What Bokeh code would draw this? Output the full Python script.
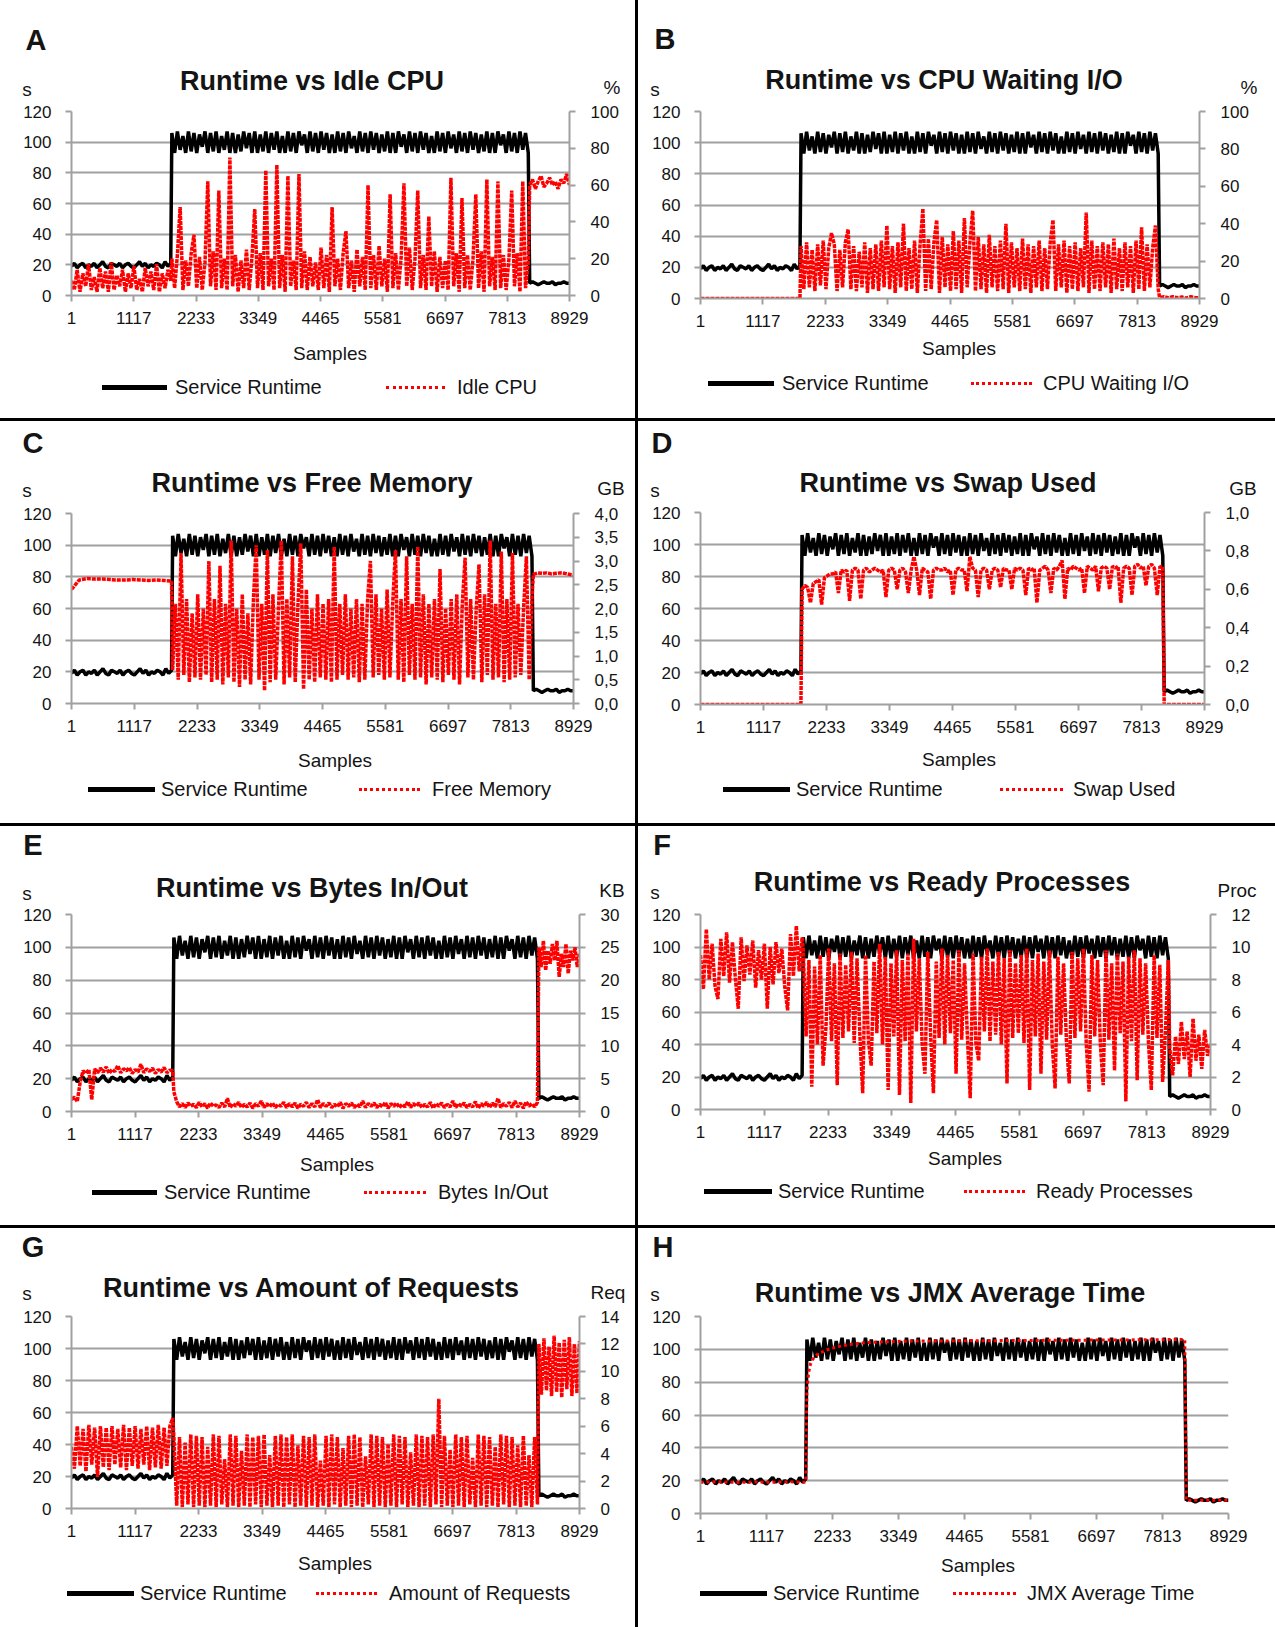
import numpy as np
from bokeh.plotting import figure
from bokeh.models import Range1d, LinearAxis, FixedTicker, CustomJSTickFormatter, Div
from bokeh.layouts import column, row
from bokeh.embed import file_html
from bokeh.resources import INLINE

FONT = "Liberation Sans"

# ---------------- data ----------------
sample_ticks = [1, 1117, 2233, 3349, 4465, 5581, 6697, 7813, 8929]
runtime_ticks = [0, 20, 40, 60, 80, 100, 120]
# sample ranges of the three phases (before load, under load, after load)
phase_bounds = [1, 1780, 1800, 8190, 8215, 8929]

runtime_pre = [19, 21, 18, 20, 21, 18, 20, 19, 21, 18, 20, 22, 19, 18, 21, 20, 19, 21,
               18, 20, 21, 19, 18, 20, 22, 19, 21, 18, 20, 19, 21, 20, 18, 22, 19, 21]
runtime_mid = [106, 93, 107, 95, 104, 93, 107, 94, 106, 93, 105, 97, 107, 93, 106, 94, 107, 93, 104, 95,
               107, 93, 106, 93, 105, 94, 107, 96, 106, 93, 107, 93, 105, 94, 107, 93, 106, 95, 107, 93,
               104, 93, 107, 94, 106, 93, 107, 98, 105, 93, 107, 94, 106, 93, 107, 95, 106, 93, 105, 93,
               107, 94, 106, 93, 107, 96, 104, 93, 107, 94, 106, 93, 107, 95, 106, 93, 105, 94, 107, 93,
               106, 93, 107, 97, 105, 93, 107, 94, 106, 93, 107, 95, 106, 93, 104, 93, 107, 94, 106, 93,
               107, 96, 105, 93, 107, 94, 106, 93, 107, 95, 106, 93, 105, 94, 107, 93, 106, 93, 107, 98,
               105, 93, 107, 94, 106, 93, 107, 95, 106, 93]
runtime_post = [8, 9, 8, 7, 8, 9, 8, 8, 9, 7, 8, 8, 9, 8, 8]

idle_cpu_pre = [8, 3, 14, 2, 12, 5, 17, 3, 10, 2, 15, 4, 13, 2, 18, 3, 11, 5, 14, 2, 12, 4, 16, 3,
                9, 2, 15, 5, 13, 3, 17, 2, 12, 4, 14, 8]
idle_cpu_mid = [20, 4, 22, 48, 3, 19, 5, 23, 33, 4, 21, 3, 18, 62, 5, 24, 3, 57, 4, 20,
                3, 75, 5, 22, 2, 19, 4, 25, 3, 21, 47, 4, 23, 3, 68, 5, 20, 3, 71, 4,
                22, 2, 65, 5, 19, 3, 66, 4, 24, 3, 21, 5, 18, 3, 26, 4, 22, 2, 48, 5,
                20, 3, 23, 35, 4, 19, 2, 25, 5, 21, 3, 60, 4, 22, 3, 27, 5, 20, 2, 55,
                4, 23, 3, 21, 61, 5, 26, 3, 20, 57, 4, 22, 3, 43, 5, 24, 2, 21, 4, 19,
                3, 64, 5, 23, 2, 53, 4, 22, 3, 20, 55, 4, 24, 2, 63, 5, 21, 3, 62, 4,
                22, 3, 20, 57, 5, 23, 2, 62, 4, 18]
idle_cpu_post = [60, 63, 58, 62, 65, 59, 61, 64, 60, 62, 58, 63, 61, 66, 60]

io_wait_pre = [0, 0, 0, 0, 0, 0]
io_wait_mid = [28, 5, 30, 6, 26, 4, 29, 7, 31, 5, 27, 35, 29, 4, 26, 6, 30, 37, 5, 28,
               4, 25, 6, 30, 3, 27, 5, 29, 4, 31, 6, 39, 5, 28, 3, 30, 6, 40, 4, 27,
               5, 31, 3, 29, 48, 4, 32, 5, 30, 42, 3, 33, 6, 29, 4, 36, 5, 31, 3, 43,
               6, 30, 47, 4, 33, 5, 29, 3, 34, 6, 28, 4, 31, 5, 40, 3, 30, 6, 27, 4,
               32, 5, 29, 3, 28, 6, 31, 4, 27, 5, 30, 42, 4, 29, 6, 31, 3, 28, 5, 30,
               4, 27, 6, 46, 3, 31, 5, 28, 4, 30, 6, 29, 3, 32, 5, 27, 4, 30, 6, 28,
               3, 31, 5, 38, 4, 29, 6, 27, 39, 5]
io_wait_post = [0.5, 1, 0.3, 1, 0.4, 0.8, 0.2, 1, 0.5, 0.3]

free_mem_pre = [2.4, 2.6, 2.63, 2.62, 2.62, 2.61, 2.6, 2.6, 2.61, 2.6, 2.59, 2.6, 2.59, 2.58]
free_mem_mid = [0.7, 2.1, 0.5, 3.17, 0.6, 2.2, 0.45, 1.9, 0.55, 2.3, 0.5, 2.0, 0.6, 3.0, 0.45, 2.2, 0.5, 2.9, 0.4, 2.1,
                0.55, 3.43, 0.45, 2.0, 0.35, 2.3, 0.5, 1.9, 0.4, 2.2, 3.33, 0.5, 2.1, 0.27, 3.23, 0.45, 2.3, 0.5, 2.0, 3.43,
                0.4, 2.2, 0.55, 3.1, 0.45, 2.1, 3.37, 0.3, 2.4, 0.5, 2.0, 0.45, 2.3, 0.55, 2.1, 0.5, 2.2, 0.45, 3.3, 0.5,
                2.1, 0.6, 2.3, 0.5, 2.0, 0.55, 2.2, 0.45, 2.1, 0.5, 2.2, 3.0, 0.55, 2.3, 0.6, 2.0, 0.5, 2.4, 0.55, 2.1,
                3.23, 0.5, 2.2, 0.45, 3.1, 0.6, 2.1, 0.5, 3.3, 0.55, 2.3, 0.4, 2.1, 0.55, 2.2, 0.5, 2.83, 0.45, 2.0, 0.6,
                2.2, 0.5, 2.3, 0.4, 2.1, 3.07, 0.55, 2.2, 0.5, 2.0, 2.93, 0.45, 2.3, 0.6, 3.43, 0.5, 2.1, 0.55, 3.2, 0.45,
                2.2, 0.5, 3.17, 0.55, 2.1, 0.6, 2.0, 3.1, 0.5, 2.2]
free_mem_post = [2.72, 2.75, 2.74, 2.75, 2.73, 2.74, 2.75, 2.74, 2.72, 2.7]

swap_pre = [0, 0, 0, 0, 0, 0]
swap_mid = [0.6, 0.62, 0.61, 0.53, 0.63, 0.64, 0.65, 0.52, 0.66, 0.67, 0.68, 0.68, 0.69, 0.58, 0.7, 0.69, 0.7, 0.54, 0.7, 0.71,
            0.7, 0.55, 0.7, 0.71, 0.69, 0.7, 0.71, 0.7, 0.69, 0.7, 0.56, 0.7, 0.71, 0.7, 0.6, 0.7, 0.71, 0.69, 0.58, 0.7,
            0.77, 0.7, 0.57, 0.71, 0.7, 0.69, 0.55, 0.7, 0.71, 0.7, 0.7, 0.71, 0.69, 0.7, 0.57, 0.7, 0.71, 0.7, 0.7, 0.59,
            0.77, 0.71, 0.7, 0.56, 0.7, 0.71, 0.7, 0.6, 0.7, 0.71, 0.7, 0.61, 0.71, 0.7, 0.7, 0.6, 0.71, 0.7, 0.71, 0.7,
            0.57, 0.71, 0.7, 0.71, 0.53, 0.7, 0.71, 0.72, 0.7, 0.58, 0.71, 0.7, 0.72, 0.75, 0.55, 0.71, 0.7, 0.72, 0.71, 0.7,
            0.71, 0.58, 0.72, 0.71, 0.7, 0.72, 0.59, 0.71, 0.72, 0.71, 0.6, 0.72, 0.71, 0.72, 0.53, 0.71, 0.72, 0.71, 0.57, 0.72,
            0.73, 0.71, 0.72, 0.62, 0.72, 0.73, 0.71, 0.57, 0.72, 0.71]
swap_post = [0, 0, 0, 0]

bytes_pre = [1.8, 2.2, 1.5, 4.5, 6.2, 5.8, 6.4, 1.8, 6.5, 5.9, 6.6, 6.0, 6.8, 5.8, 6.4, 6.1, 7.0, 5.9,
             6.5, 6.2, 6.7, 5.8, 6.4, 6.0, 7.2, 5.9, 6.5, 6.1, 6.6, 5.8, 6.4, 6.0, 6.7, 5.9, 6.3, 6.2]
bytes_mid = [3.0, 1.5, 0.7, 1.2, 0.6, 1.3, 0.8, 1.1, 0.6, 1.4, 0.7, 1.2, 0.5, 1.3, 0.8, 1.0, 0.6, 1.3, 0.7, 2.0,
             0.6, 1.2, 0.8, 1.4, 0.6, 1.1, 0.7, 1.3, 0.5, 1.2, 0.8, 1.6, 0.6, 1.2, 0.7, 1.3, 0.6, 1.1, 0.8, 1.4,
             0.6, 1.2, 0.7, 1.3, 0.5, 1.1, 0.8, 1.4, 0.6, 1.2, 0.7, 1.8, 0.6, 1.2, 0.8, 1.3, 0.6, 1.1, 0.7, 1.4,
             0.5, 1.2, 0.8, 1.3, 0.6, 1.1, 0.7, 1.6, 0.6, 1.2, 0.8, 1.3, 0.6, 1.1, 0.7, 1.4, 0.5, 1.2, 0.8, 1.3,
             0.6, 1.1, 0.7, 1.5, 0.6, 1.2, 0.8, 1.3, 0.6, 1.1, 0.7, 1.4, 0.5, 1.2, 0.8, 1.3, 0.6, 1.1, 0.7, 1.6,
             0.6, 1.2, 0.8, 1.3, 0.6, 1.1, 0.7, 1.5, 0.5, 1.2, 0.8, 1.4, 0.6, 1.3, 0.7, 2.0, 0.6, 1.2, 0.8, 1.4,
             0.6, 1.6, 0.7, 1.3, 0.5, 1.5, 0.8, 1.2, 0.7, 1.4]
bytes_post = [25, 22, 26, 21.5, 24.5, 22.5, 25.5, 23, 26, 20.5, 24, 22, 25.5, 21, 24.5, 23, 25, 22, 24]

ready_pre = [9.5, 7.4, 11.1, 8.0, 10.2, 7.6, 6.8, 10.5, 8.2, 10.9, 7.8, 10.3, 8.1, 6.2, 10.6, 7.9, 10.1, 8.3,
             10.4, 7.5, 9.8, 8.0, 10.2, 6.2, 10.0, 7.7, 10.3, 8.4, 9.9, 7.6, 6.1, 10.8, 8.2, 11.3, 8.5, 10.6]
ready_mid = [9.8, 4.5, 9.2, 1.4, 8.8, 4.0, 9.5, 2.7, 5.0, 9.9, 4.2, 9.0, 1.5, 9.6, 4.4, 8.9, 4.8, 9.7, 4.1, 9.3,
             4.6, 1.0, 9.5, 4.3, 2.7, 9.1, 4.7, 10.2, 4.0, 9.4, 1.2, 9.0, 4.5, 9.8, 0.9, 9.2, 4.2, 9.6, 0.4, 10.5,
             4.8, 9.3, 4.1, 2.2, 9.7, 4.6, 1.0, 9.1, 4.4, 9.9, 4.0, 9.5, 4.7, 9.2, 2.2, 9.8, 4.3, 9.0, 4.5, 0.7,
             9.6, 4.1, 3.0, 9.4, 4.8, 9.9, 4.2, 9.1, 4.6, 9.7, 4.0, 9.3, 1.6, 9.8, 4.4, 9.0, 4.7, 9.5, 4.1, 9.9,
             1.2, 9.2, 4.5, 9.6, 2.2, 9.1, 4.3, 9.8, 4.0, 1.3, 9.4, 4.6, 9.0, 4.2, 1.6, 9.7, 4.4, 9.3, 4.8, 9.9,
             4.1, 1.1, 9.5, 4.5, 9.2, 4.0, 1.5, 9.8, 4.3, 9.0, 2.4, 9.6, 4.7, 9.1, 0.5, 9.4, 4.2, 9.8, 1.8, 9.3,
             4.6, 9.0, 4.1, 1.2, 9.5, 4.4, 8.9, 1.7, 4.8, 9.2]
ready_post = [3.8, 2.1, 4.5, 2.8, 5.4, 3.1, 4.8, 2.0, 5.6, 3.0, 4.6, 2.5, 4.9, 3.3, 4.0]

requests_pre = [4.5, 2.9, 6.0, 3.1, 5.8, 2.7, 6.1, 3.2, 5.9, 2.3, 6.0, 3.0, 5.9, 2.8, 6.0, 3.2, 5.8, 3.0,
                6.1, 2.8, 5.9, 3.1, 6.0, 2.9, 5.8, 3.2, 6.0, 2.8, 5.9, 3.0, 6.1, 2.9, 5.9, 3.1, 6.0, 6.6]
requests_mid = [5.3, 0.2, 5.2, 0.1, 4.8, 0.3, 5.4, 0.1, 5.3, 0.2, 5.2, 0.1, 4.5, 0.2, 5.4, 0.1, 5.3, 0.3, 3.6, 0.1,
                5.4, 0.2, 5.3, 0.1, 4.2, 0.2, 5.4, 0.1, 5.2, 0.3, 5.3, 0.1, 5.4, 0.2, 3.9, 0.1, 5.3, 0.2, 5.4, 0.1,
                5.2, 0.3, 5.4, 0.1, 4.6, 0.2, 5.3, 0.1, 5.2, 0.2, 5.4, 0.1, 3.5, 0.2, 5.3, 0.1, 5.4, 0.3, 5.2, 0.1,
                4.4, 0.2, 5.3, 0.1, 5.4, 0.2, 5.2, 0.1, 3.8, 0.3, 5.4, 0.1, 5.3, 0.2, 5.2, 0.1, 4.7, 0.2, 5.4, 0.1,
                5.3, 0.3, 5.2, 0.1, 4.1, 0.2, 5.4, 0.1, 5.3, 0.2, 5.2, 0.1, 5.4, 0.3, 8.0, 0.1, 5.3, 0.2, 4.3, 0.1,
                5.4, 0.2, 5.2, 0.1, 5.3, 0.3, 3.7, 0.1, 5.4, 0.2, 5.3, 0.1, 5.2, 0.2, 4.5, 0.1, 5.4, 0.3, 5.3, 0.1,
                5.2, 0.2, 4.6, 0.1, 5.3, 0.2, 3.9, 0.1, 5.2, 0.3]
requests_post = [12.0, 8.3, 12.4, 8.6, 11.8, 8.2, 12.6, 8.5, 12.1, 8.1, 12.3, 8.7, 12.5, 8.2, 12.0, 8.4, 12.2]

jmx_samples = [1, 300, 600, 900, 1200, 1500, 1780, 1800, 1830, 1860, 1900, 1950, 2000, 2100, 2200,
               2350, 2500, 2700, 3000, 3500, 4500, 6000, 7500, 8190, 8215, 8929]
jmx_values = [19, 19.4, 18.9, 19.2, 19, 19.3, 19, 75, 86, 91, 94, 96, 97.5, 99, 100.5,
              101.8, 102.8, 103.8, 104.5, 105, 105.2, 105.5, 105.8, 106, 8, 8]


def phase_series(pre, mid, post):
    xs = np.concatenate([np.linspace(phase_bounds[0], phase_bounds[1], len(pre)),
                         np.linspace(phase_bounds[2], phase_bounds[3], len(mid)),
                         np.linspace(phase_bounds[4], phase_bounds[5], len(post))])
    return list(xs), list(pre) + list(mid) + list(post)


comma_fmt = "return tick.toFixed(1).replace('.', ',');"

# layout of each panel (pixels inside the panel)
panels = [
    dict(letter="A", title="Runtime vs Idle CPU", name="Idle CPU", unit="%",
         red=(idle_cpu_pre, idle_cpu_mid, idle_cpu_post), rtop=100, rticks=[0, 20, 40, 60, 80, 100], fmt=None,
         W=635, H=418, L=71, R=569, T=111, B=295, let=(36, 40), tit=(312, 81), s=(27, 89), u=(612, 87),
         smp=(330, 353), leg=387, lk=(102, 167, 175), lr=(386, 445, 457)),
    dict(letter="B", title="Runtime vs CPU Waiting I/O", name="CPU Waiting I/O", unit="%",
         red=(io_wait_pre, io_wait_mid, io_wait_post), rtop=100, rticks=[0, 20, 40, 60, 80, 100], fmt=None,
         W=637, H=418, L=62, R=561, T=111, B=298, let=(27, 39), tit=(306, 80), s=(17, 89), u=(611, 87),
         smp=(321, 348), leg=383, lk=(70, 136, 144), lr=(333, 394, 405)),
    dict(letter="C", title="Runtime vs Free Memory", name="Free Memory", unit="GB",
         red=(free_mem_pre, free_mem_mid, free_mem_post), rtop=4.0,
         rticks=[0, 0.5, 1.0, 1.5, 2.0, 2.5, 3.0, 3.5, 4.0], fmt=comma_fmt,
         W=635, H=402, L=71, R=573, T=92, B=282, let=(33, 22), tit=(312, 62), s=(27, 69), u=(611, 67),
         smp=(335, 339), leg=368, lk=(88, 155, 161), lr=(359, 420, 432)),
    dict(letter="D", title="Runtime vs Swap Used", name="Swap Used", unit="GB",
         red=(swap_pre, swap_mid, swap_post), rtop=1.0, rticks=[0, 0.2, 0.4, 0.6, 0.8, 1.0], fmt=comma_fmt,
         W=637, H=402, L=62, R=566, T=91, B=283, let=(24, 22), tit=(310, 62), s=(17, 69), u=(605, 67),
         smp=(321, 338), leg=368, lk=(85, 152, 158), lr=(362, 425, 435)),
    dict(letter="E", title="Runtime vs Bytes In/Out", name="Bytes In/Out", unit="KB",
         red=(bytes_pre, bytes_mid, bytes_post), rtop=30, rticks=[0, 5, 10, 15, 20, 25, 30], fmt=None,
         W=635, H=399, L=71, R=579, T=88, B=285, let=(33, 19), tit=(312, 62), s=(27, 67), u=(612, 64),
         smp=(337, 338), leg=366, lk=(92, 157, 164), lr=(364, 426, 438)),
    dict(letter="F", title="Runtime vs Ready Processes", name="Ready Processes", unit="Proc",
         red=(ready_pre, ready_mid, ready_post), rtop=12, rticks=[0, 2, 4, 6, 8, 10, 12], fmt=None,
         W=637, H=399, L=62, R=572, T=88, B=283, let=(24, 19), tit=(304, 56), s=(17, 66), u=(599, 64),
         smp=(327, 332), leg=365, lk=(66, 134, 140), lr=(326, 387, 398)),
    dict(letter="G", title="Runtime vs Amount of Requests", name="Amount of Requests", unit="Req",
         red=(requests_pre, requests_mid, requests_post), rtop=14, rticks=[0, 2, 4, 6, 8, 10, 12, 14], fmt=None,
         W=635, H=399, L=71, R=579, T=88, B=280, let=(33, 19), tit=(311, 60), s=(27, 65), u=(608, 64),
         smp=(335, 335), leg=365, lk=(67, 134, 140), lr=(316, 377, 389)),
    dict(letter="H", title="Runtime vs JMX Average Time", name="JMX Average Time", unit=None,
         red=None, rtop=None, rticks=None, fmt=None,
         W=637, H=399, L=62, R=590, T=88, B=285, let=(25, 19), tit=(312, 65), s=(17, 66), u=None,
         smp=(340, 337), leg=365, lk=(62, 129, 135), lr=(315, 378, 389)),
]

GRID = "#a0a0a0"
TXT = "#141414"
RED = "#ff0000"
TOP_PAD = 8      # chart figure space above the frame
BOT_PAD = 38     # chart figure space below the frame (tick labels)


def span(text, x, y, size, bold=False, align="center"):
    tx = {"center": "-50%", "left": "0"}[align]
    weight = "bold" if bold else "normal"
    return (f'<span style="position:absolute;left:{x}px;top:{y}px;transform:translate({tx},-50%);'
            f"font-family:'{FONT}';font-size:{size}px;font-weight:{weight};color:{TXT};"
            f'white-space:nowrap;line-height:1;">{text}</span>')


def strip(w, h, inner):
    html = (f'<div style="position:relative;width:{w}px;height:{h}px;background:white;'
            f'overflow:hidden;margin:0;padding:0;">{inner}</div>')
    return Div(text=html, width=w, height=h, margin=0, styles={"background-color": "white"})


def style_axis(ax, standoff):
    ax.axis_line_color = GRID
    ax.axis_line_width = 2
    ax.major_tick_line_color = GRID
    ax.major_tick_line_width = 2
    ax.major_tick_out = 6
    ax.major_tick_in = 0
    ax.minor_tick_line_color = None
    ax.major_label_text_font = FONT
    ax.major_label_text_font_size = "17px"
    ax.major_label_text_color = TXT
    ax.major_label_standoff = standoff


def make_panel(g):
    W, H, L, R, T, B = g["W"], g["H"], g["L"], g["R"], g["T"], g["B"]

    # header strip: letter, title, axis units
    hh = T - TOP_PAD
    inner = span(g["letter"], *g["let"], 29, bold=True)
    inner += span(g["title"], *g["tit"], 27, bold=True)
    inner += span("s", *g["s"], 19)
    if g["unit"]:
        inner += span(g["unit"], *g["u"], 19)
    head = strip(W, hh, inner)

    # chart
    ch = (B + BOT_PAD) - hh
    p = figure(width=W, height=ch, output_backend="svg", toolbar_location=None,
               x_range=Range1d(1, 8929), y_range=Range1d(0, 120),
               min_border_left=L, min_border_right=W - R,
               min_border_top=TOP_PAD, min_border_bottom=BOT_PAD, margin=0)
    p.outline_line_color = None
    p.background_fill_color = "white"
    p.border_fill_color = "white"
    p.styles = {"background-color": "white"}
    p.xgrid.visible = False
    p.ygrid.ticker = FixedTicker(ticks=runtime_ticks)
    p.ygrid.grid_line_color = GRID
    p.ygrid.grid_line_width = 2
    p.xaxis.ticker = FixedTicker(ticks=sample_ticks)
    p.yaxis.ticker = FixedTicker(ticks=runtime_ticks)
    style_axis(p.xaxis[0], 10)
    style_axis(p.yaxis[0], 14)
    if g["rtop"] is not None:
        p.extra_y_ranges = {"r": Range1d(0, g["rtop"])}
        rax = LinearAxis(y_range_name="r", ticker=FixedTicker(ticks=g["rticks"]))
        if g["fmt"]:
            rax.formatter = CustomJSTickFormatter(code=g["fmt"])
        style_axis(rax, 15)
        p.add_layout(rax, "right")

    bx, by = phase_series(runtime_pre, runtime_mid, runtime_post)
    p.line(bx, by, line_color="black", line_width=3.5)
    if g["red"] is not None:
        rx, ry = phase_series(*g["red"])
        p.line(rx, ry, line_color=RED, line_width=3.5, line_dash="4 1", y_range_name="r")
    else:
        p.line(jmx_samples, jmx_values, line_color=RED, line_width=3, line_dash="3 3")

    # footer strip: axis title and legend
    y0 = B + BOT_PAD
    fh = H - y0
    ly = g["leg"] - y0
    k0, k1, kt = g["lk"]
    r0, r1, rt = g["lr"]
    inner = span("Samples", g["smp"][0], g["smp"][1] - y0, 19)
    inner += (f'<span style="position:absolute;left:{k0}px;top:{ly - 2.5}px;width:{k1 - k0}px;'
              f'height:5px;background:black;"></span>')
    inner += (f'<span style="position:absolute;left:{r0}px;top:{ly - 1.5}px;width:{r1 - r0}px;'
              f'height:0;border-top:3px dotted {RED};"></span>')
    inner += span("Service Runtime", kt, ly, 20, align="left")
    inner += span(g["name"], rt, ly, 20, align="left")
    foot = strip(W, fh, inner)

    return column(head, p, foot, spacing=0, margin=0, styles={"background-color": "white"})


cols = [make_panel(g) for g in panels]
layout = column(row(cols[0], cols[1], spacing=3, margin=0),
                row(cols[2], cols[3], spacing=3, margin=0),
                row(cols[4], cols[5], spacing=3, margin=0),
                row(cols[6], cols[7], spacing=3, margin=0),
                spacing=3, margin=0)
layout.styles = {"background-color": "black"}

open("out.html", "w").write(file_html(layout, INLINE))
